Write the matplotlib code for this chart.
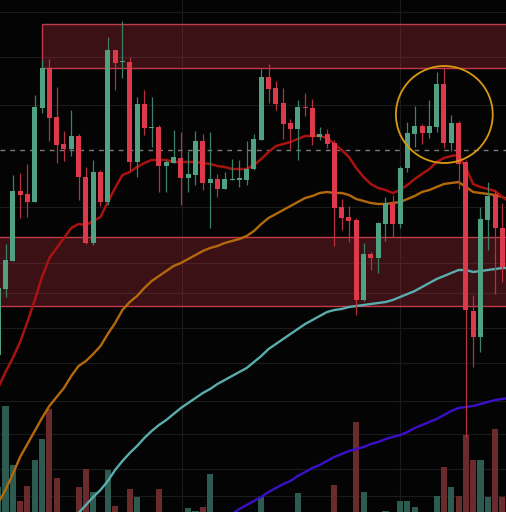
import numpy as np
import matplotlib
matplotlib.use("Agg")
import matplotlib.pyplot as plt
from matplotlib.patches import Rectangle, Ellipse

# OHLC candles (70 bars)
opens = [245, 311, 339, 409, 406, 398, 492, 532, 483, 456,
         451, 464, 423, 357, 428, 398, 550, 538, 538, 438,
         496, 472, 473, 434, 437, 442, 422, 425, 459, 417,
         421, 411, 420, 420, 420, 431, 460, 523, 512, 497,
         477, 471, 493, 492, 463, 466, 457, 393, 383, 380,
         300, 346, 342, 376, 397, 376, 432, 466, 474, 467,
         473, 516, 457, 477, 438, 289, 263, 380, 406, 372]
closes = [312, 340, 409, 405, 398, 493, 532, 482, 455, 451,
          464, 423, 357, 428, 398, 550, 537, 539, 438, 496,
          472, 473, 434, 438, 443, 422, 426, 459, 417, 421,
          411, 421, 421, 422, 431, 461, 523, 511, 496, 476,
          471, 493, 492, 463, 466, 456, 392, 382, 379, 300,
          346, 342, 377, 397, 376, 432, 467, 474, 467, 474,
          516, 457, 477, 436, 290, 263, 381, 404, 372, 333]
highs = [315, 356, 425, 427, 436, 505, 540, 541, 513, 469,
         490, 466, 433, 440, 430, 563, 550, 579, 543, 503,
         510, 503, 475, 440, 470, 468, 449, 469, 466, 468,
         426, 428, 441, 440, 459, 466, 531, 536, 519, 512,
         481, 500, 507, 501, 473, 471, 460, 401, 394, 382,
         357, 348, 378, 403, 405, 434, 478, 494, 476, 500,
         528, 533, 485, 479, 440, 305, 393, 418, 410, 397]
lows = [240, 303, 339, 382, 383, 398, 487, 459, 437, 439,
        444, 400, 356, 355, 394, 395, 510, 522, 429, 423,
        465, 453, 408, 408, 437, 395, 408, 415, 410, 372,
        403, 411, 420, 413, 415, 430, 460, 497, 490, 461,
        451, 440, 484, 455, 460, 452, 354, 370, 358, 285,
        299, 330, 327, 359, 363, 372, 428, 453, 456, 462,
        468, 452, 449, 411, 163, 233, 248, 350, 306, 318]
volumes = [25, 106, 47, 11, 26, 52, 73, 103, 34, 0,
           0, 25, 43, 20, 0, 42, 6, 0, 23, 15,
           0, 0, 23, 0, 0, 0, 4, 1, 5, 38,
           0, 0, 0, 0, 0, 0, 15, 0, 0, 0,
           0, 19, 0, 0, 0, 0, 27, 0, 0, 90,
           20, 0, 0, 1, 0, 11, 11, 5, 0, 0,
           16, 45, 25, 16, 77, 52, 52, 15, 83, 15]

# moving averages (bar index 0..70)
ma_fast = [212, 228, 242, 258, 278, 300, 323, 342, 352, 362,
           372, 376, 375, 379, 383, 398, 412, 425, 428, 433,
           437, 440, 440, 440, 438, 438, 438, 438, 437, 436,
           434, 433, 431, 431, 431, 435, 441, 448, 454, 456,
           458, 461, 464, 464, 464, 462, 456, 450, 443, 432,
           423, 416, 412, 410, 407, 410, 415, 421, 426, 431,
           438, 442, 444, 445, 432, 416, 413, 411, 409, 403, 398]
ma_mid = [97, 110, 126, 143, 156, 169, 182, 194, 203, 212,
          224, 234, 239, 246, 254, 266, 277, 290, 298, 304,
          312, 319, 324, 329, 334, 337, 341, 345, 349, 352,
          354, 357, 359, 361, 364, 369, 376, 382, 386, 390,
          394, 398, 402, 404, 407, 408, 407, 407, 405, 401,
          399, 397, 396, 396, 397, 398, 401, 404, 408, 410,
          413, 416, 417, 418, 413, 408, 407, 406, 405, 403, 400]
ma_slow_start = 10
ma_slow = [78, 87, 95, 103, 110, 119, 130, 139, 147, 154,
           162, 169, 175, 180, 186, 192, 197, 202, 207, 211,
           216, 220, 224, 228, 232, 238, 244, 251, 256, 261,
           266, 271, 276, 280, 284, 288, 290, 291, 293, 294,
           295, 296, 297, 298, 300, 303, 306, 309, 313, 317,
           321, 324, 327, 330, 330, 328, 329, 330, 331, 332, 332]
ma_long_start = 31
ma_long = [80, 86, 91, 95, 99, 103, 108, 112, 116, 119,
           124, 128, 132, 135, 139, 143, 146, 149, 151, 153,
           156, 158, 161, 163, 165, 168, 172, 175, 178, 181,
           185, 189, 192, 193, 194, 196, 198, 200, 201, 202]

# supply / demand zones and marked level
upper_zone = (532, 576.3)
upper_zone_start = 5.93
lower_zone = (294, 363.3)
level = 449.7
highlight = (61.05, 485.5)

GREEN = "#50a082"
RED = "#dc3a4b"
BG = "#040404"

fig = plt.figure(figsize=(5.065, 5.12), dpi=100, facecolor=BG)
ax_vol = fig.add_axes([0, 0, 1, 1], facecolor=BG)
ax = fig.add_axes([0, 0, 1, 1], facecolor="none")

xlim = (0.247, 69.56)
x = np.arange(len(opens))

# volume panel (behind price)
vol_colors = ["#2d5b51" if c >= o else "#6b2a2c" for o, c in zip(opens, closes)]
ax_vol.bar(x, volumes, width=0.83, color=vol_colors, zorder=2)
ax_vol.set_xlim(*xlim)
ax_vol.set_ylim(0, 512)
for yy in [16, 43, 78, 111, 149, 184]:
    ax_vol.axhline(yy, color="#1b1b1b", lw=0.8, zorder=0)
for xx in [25.2, 55.0]:
    ax_vol.axvline(xx, color="#1b1b1b", lw=0.8, zorder=0)

# price grid
for yy in [588, 543, 495, 393, 337, 307]:
    ax.axhline(yy, color="#1b1b1b", lw=0.8, zorder=0)

# zones
zone_face = (0.85, 0.22, 0.29, 0.26)
ax.add_patch(Rectangle((upper_zone_start, upper_zone[0]), 80, upper_zone[1] - upper_zone[0],
                       facecolor=zone_face, edgecolor="#c23a48", lw=1.0, zorder=1))
ax.add_patch(Rectangle((-5, lower_zone[0]), 85, lower_zone[1] - lower_zone[0],
                       facecolor=zone_face, edgecolor="#c23a48", lw=1.0, zorder=1))

ax.axhline(level, color="#7c7c7c", lw=1.0, dashes=(3.4, 3.7), zorder=2)

# moving averages
xi = np.arange(len(ma_fast))
ax.plot(xi, ma_mid, color="#b4690c", lw=1.7, zorder=3)
ax.plot(xi, ma_fast, color="#a8130f", lw=1.8, zorder=3)
ax.plot(np.arange(ma_slow_start, ma_slow_start + len(ma_slow)), ma_slow,
        color="#5aadad", lw=1.7, zorder=3)
ax.plot(np.arange(ma_long_start, ma_long_start + len(ma_long)), ma_long,
        color="#3c10c8", lw=1.7, zorder=3)

# candles
for i in range(len(opens)):
    up = closes[i] >= opens[i]
    col = GREEN if up else RED
    wick = "#3c8068" if up else "#b8303f"
    ax.vlines(i, lows[i], highs[i], color=wick, lw=0.9, zorder=4)
    lo, hi = sorted((opens[i], closes[i]))
    ax.add_patch(Rectangle((i - 0.34, lo), 0.68, max(hi - lo, 1.2),
                           facecolor=col, edgecolor="none", zorder=5))

ax.add_patch(Ellipse(highlight, width=13.25, height=97, fill=False,
                     edgecolor="#d99a10", lw=1.3, zorder=6))

ax.set_xlim(*xlim)
ax.set_ylim(88, 600)
for a in (ax, ax_vol):
    a.set_xticks([])
    a.set_yticks([])
    for s in a.spines.values():
        s.set_visible(False)

fig.savefig("out.png", dpi=100, facecolor=BG)
